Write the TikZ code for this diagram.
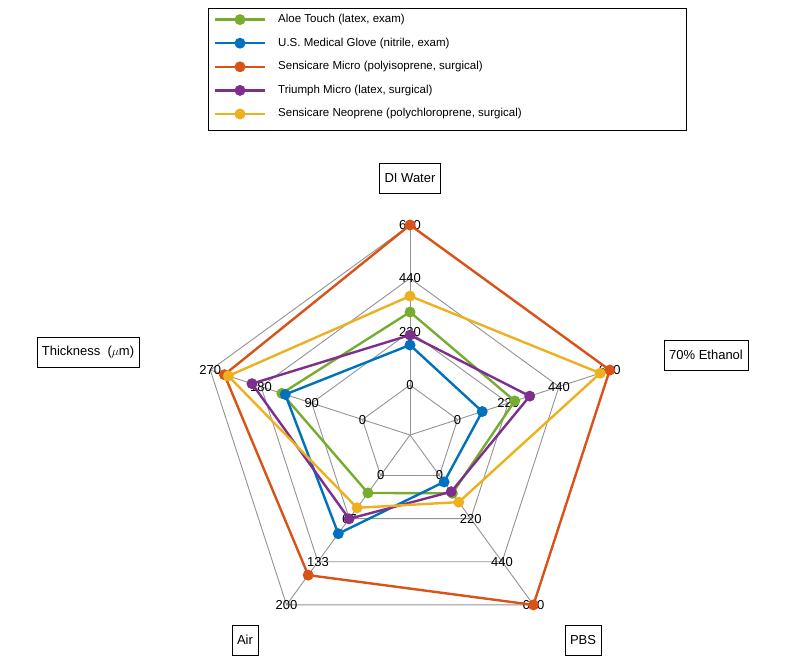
\documentclass[tikz,border=0pt]{standalone}
\usepackage{fontspec}
\setmainfont{Liberation Sans}
\usetikzlibrary{calc}
\definecolor{aloe}{RGB}{119,172,48}
\definecolor{usmed}{RGB}{0,114,189}
\definecolor{smicro}{RGB}{217,83,25}
\definecolor{triumph}{RGB}{126,47,142}
\definecolor{sneo}{RGB}{237,177,32}
\begin{document}
\begin{tikzpicture}[
        x=1pt,y=-1pt,
        gridline/.style={draw=gray!85,line width=0.9pt},
        series/.style={draw=#1,line width=2.4pt,line join=round},
        dot/.style={circle,fill=#1,inner sep=0pt,minimum size=11pt},
        axlabel/.style={draw=black,line width=0.6pt,fill=white,font=\fontsize{13}{15}\selectfont,inner sep=5pt,minimum height=30pt},
        ticknum/.style={font=\fontsize{13}{15}\selectfont,inner sep=0pt},
        legtext/.style={font=\fontsize{11.5}{13}\selectfont,anchor=west,inner sep=0pt},
      ]
      \useasboundingbox (0,0) rectangle (787,670);
      \coordinate (c) at (410,435);
      % axes: angle (y points down, so angles are negated)
      \foreach \a in {90,18,-54,-126,162}{
        \draw[gridline] (c) -- ++(-\a:210);
      }
      % rings
      \foreach \k in {0,1,2,3}{
        \pgfmathsetmacro\rr{50+53.33*\k}
        \draw[gridline] ($(c)+(-90:\rr)$) -- ($(c)+(-18:\rr)$) -- ($(c)+(54:\rr)$)
          -- ($(c)+(126:\rr)$) -- ($(c)+(-162:\rr)$) -- cycle;
      }
      % tick numbers
      \foreach \a\ta\tb\tc\td in {90/0/220/440/660,18/0/220/440/660,-54/0/220/440/660,-126/0/67/133/200,162/0/90/180/270}{
        \foreach \k/\t in {0/\ta,1/\tb,2/\tc,3/\td}{
          \pgfmathsetmacro\rr{50+53.33*\k}
          \node[ticknum] at ($(c)+(-\a:\rr)$) {\t};
        }
      }
      % data
      \foreach \cl/\va/\vb/\vc/\vd/\ve in {aloe/301/248/91/27/143,usmed/165/107/33/90/137,
          smicro/660/660/660/154/245,triumph/206/313/83/67/196,sneo/367/619/136/50/238}{
        \pgfmathsetmacro\ra{50+\va*0.242424}
        \pgfmathsetmacro\rb{50+\vb*0.242424}
        \pgfmathsetmacro\rc{50+\vc*0.242424}
        \pgfmathsetmacro\rd{50+\vd*0.8}
        \pgfmathsetmacro\re{50+\ve*0.592593}
        \draw[series=\cl] ($(c)+(-90:\ra)$) coordinate (p1) -- ($(c)+(-18:\rb)$) coordinate (p2)
          -- ($(c)+(54:\rc)$) coordinate (p3) -- ($(c)+(126:\rd)$) coordinate (p4)
          -- ($(c)+(-162:\re)$) coordinate (p5) -- cycle;
        \foreach \p in {p1,p2,p3,p4,p5}
          \node[dot=\cl] at (\p) {};
      }
      % axis labels
      \node[axlabel] (dwlab) at (410,178) {DI Water};
      \node[axlabel] (etlab) at (706,355) {70\% Ethanol};
      \node[axlabel] (pblab) at (583,640) {PBS};
      \node[axlabel] (ailab) at (245,640) {Air};
      \node[axlabel] (thlab) at (88,352) {Thickness \ ($\mu$m)};
      % legend
      \draw[line width=0.6pt,fill=white] (208,8) rectangle (686,130);
      \foreach \cl/\txt [count=\i] in {aloe/Aloe Touch (latex{,} exam),usmed/U.S. Medical Glove (nitrile{,} exam),
          smicro/Sensicare Micro (polyisoprene{,} surgical),triumph/Triumph Micro (latex{,} surgical),
          sneo/Sensicare Neoprene (polychloroprene{,} surgical)}{
        \pgfmathsetmacro\yy{-4+23.6*\i}
        \draw[series=\cl] (215,\yy) -- (265,\yy);
        \node[dot=\cl] at (240,\yy) {};
        \node[legtext] (leg\i) at (278,\yy) {\txt};
      }
    \end{tikzpicture}
\end{document}
